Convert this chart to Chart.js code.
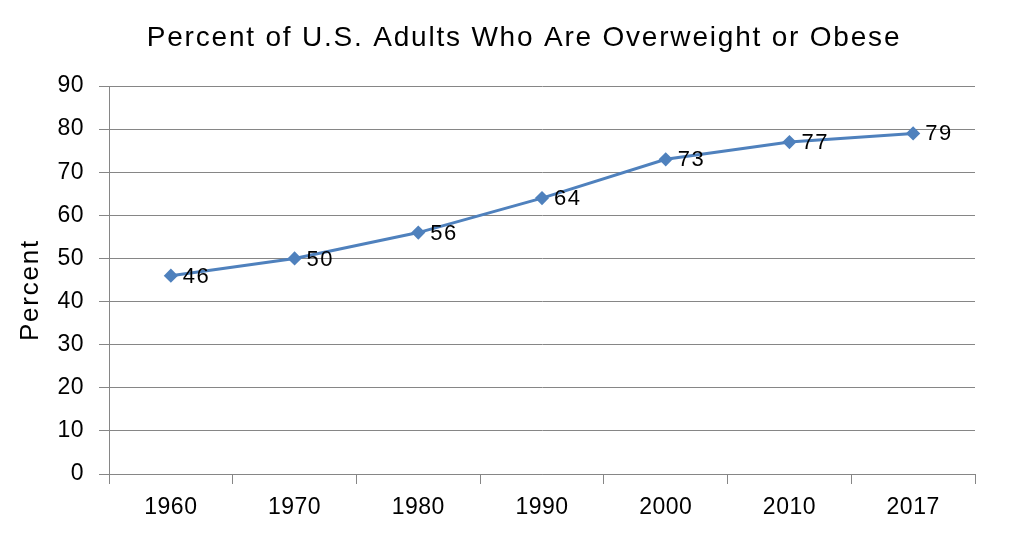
<!DOCTYPE html>
<html>
<head>
<meta charset="utf-8">
<script src="https://cdn.jsdelivr.net/npm/chart.js@4/dist/chart.umd.min.js"></script>
<style>
  html, body { margin: 0; padding: 0; background: #fff; }
  #grafico { display: block; }
</style>
</head>
<body>
<canvas id="grafico" width="1009" height="541"></canvas>
<script>
// dados do gráfico
const anos = ['1960', '1970', '1980', '1990', '2000', '2010', '2017']
const percentuais = [46, 50, 56, 64, 73, 77, 79]
const titulo = 'Percent of U.S. Adults Who Are Overweight or Obese'
const tituloEixoY = 'Percent'

const fonte = 'Liberation Sans, Arial, sans-serif'
const cinza = '#868686'

// espaçamento entre letras (fonte original é mais larga)
const espacamentoPlugin = {
    id: 'espacamento',
    beforeDraw(chart) {
        chart.ctx.letterSpacing = '0.5px'
    }
}

// títulos desenhados à mão para acertar a posição
const titulosPlugin = {
    id: 'titulosManuais',
    afterDraw(chart) {
        const ctx = chart.ctx
        ctx.save()
        ctx.letterSpacing = '1.8px'
        ctx.font = '28px ' + fonte
        ctx.fillStyle = '#000'
        ctx.textAlign = 'center'
        ctx.textBaseline = 'middle'
        ctx.fillText(titulo, 524, 38)

        // título do eixo Y
        ctx.letterSpacing = '1.8px'
        ctx.font = '26px ' + fonte
        ctx.translate(31, 290)
        ctx.rotate(-Math.PI / 2)
        ctx.fillText(tituloEixoY, 0, 0)
        ctx.restore()
    }
}

// rótulos à direita de cada ponto
const rotulosPlugin = {
    id: 'rotulos',
    afterDatasetsDraw(chart) {
        const ctx = chart.ctx
        const meta = chart.getDatasetMeta(0)
        ctx.save()
        ctx.letterSpacing = '1.5px'
        ctx.font = '22px ' + fonte
        ctx.fillStyle = '#000'
        ctx.textAlign = 'left'
        ctx.textBaseline = 'middle'
        meta.data.forEach((pt, i) => {
            ctx.fillText(String(percentuais[i]), pt.x + 12, pt.y + 1)
        })
        ctx.restore()
    }
}

new Chart(document.getElementById('grafico'), {
    type: 'line',
    data: {
        labels: anos,
        datasets: [{
            data: percentuais,
            borderColor: '#4F81BD',
            backgroundColor: '#4F81BD',
            borderWidth: 3,
            pointStyle: 'rectRot',
            pointRadius: 5,
            pointHoverRadius: 5,
            tension: 0
        }]
    },
    options: {
        responsive: false,
        animation: false,
        layout: { padding: { left: 0, right: 34, top: 86, bottom: 0 } },
        plugins: {
            legend: { display: false },
            tooltip: { enabled: false },
            title: { display: false }
        },
        scales: {
            x: {
                offset: true,
                grid: {
                    offset: true,
                    drawOnChartArea: false,
                    drawTicks: true,
                    tickLength: 10,
                    color: cinza
                },
                border: { color: cinza, width: 1 },
                ticks: {
                    color: '#000',
                    font: { family: fonte, size: 23 },
                    padding: 10,
                    maxRotation: 0
                },
                afterFit(scale) { scale.height = 67 }
            },
            y: {
                min: 0,
                max: 90,
                ticks: {
                    stepSize: 10,
                    color: '#000',
                    font: { family: fonte, size: 23 },
                    padding: 15
                },
                grid: {
                    color: cinza,
                    tickLength: 10
                },
                border: { color: cinza, width: 1 },
                afterFit(scale) { scale.width = 109 }
            }
        }
    },
    plugins: [espacamentoPlugin, rotulosPlugin, titulosPlugin]
})
</script>
</body>
</html>
